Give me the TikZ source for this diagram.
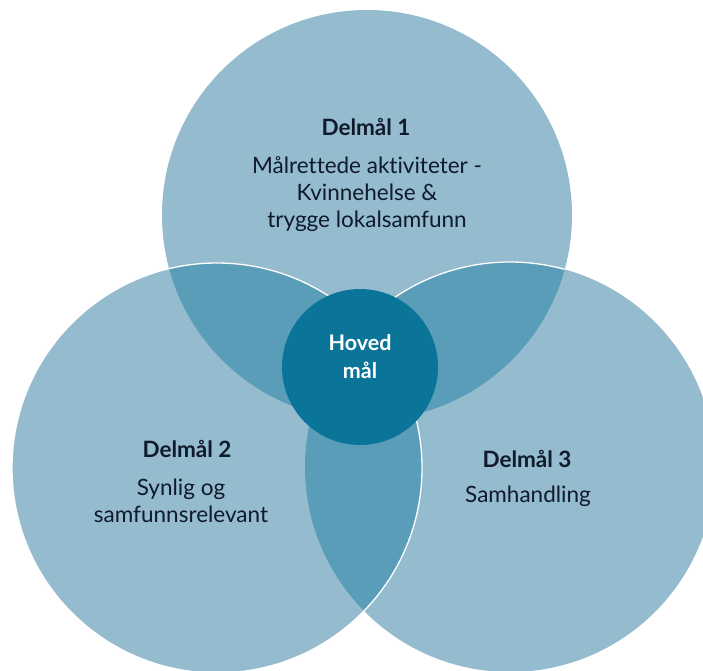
\documentclass[tikz,border=0pt]{standalone}
\usepackage{fontspec}
\setmainfont{Lato}[Ligatures=NoCommon]
\usetikzlibrary{positioning}
\definecolor{lightblue}{HTML}{94BBCE}
\definecolor{lensblue}{HTML}{5A9DB8}
\definecolor{mainblue}{HTML}{0B7599}
\definecolor{inkblue}{HTML}{0F1A2B}
\tikzstyle{goal}=[circle, fill=lightblue, minimum size=410pt, inner sep=0pt]
\tikzstyle{rim}=[white, line width=1.3pt]
\tikzstyle{title}=[anchor=base, text=inkblue, font=\fontsize{22.5}{27}\selectfont\bfseries]
\tikzstyle{body}=[align=center, text=inkblue, font=\fontsize{22.5}{27}\selectfont]

\begin{document}
\begin{tikzpicture}[x=1pt, y=1pt]
	\useasboundingbox (0, 0) rectangle (703, 670);
	\clip (0, 0) rectangle (703, 670);
	% the three circles
	\node[goal] (d1) at (367, 455) {};
	\node[goal] (d2) at (217, 202) {};
	\node[goal] (d3) at (510, 203) {};
	% overlaps
	\begin{scope}
		\clip (d1.center) circle (205);
		\fill[lensblue] (d2.center) circle (205);
		\fill[lensblue] (d3.center) circle (205);
		\draw[rim] (d3.center) circle (205);
	\end{scope}
	\begin{scope}
		\clip (d2.center) circle (205);
		\fill[lensblue] (d3.center) circle (205);
	\end{scope}
	\draw[rim] (d2.center) circle (205);
	% centre
	\node[circle, fill=mainblue, minimum size=156pt, inner sep=0pt] (hoved) at (360, 303) {};
	\node[align=center, text=white, font=\fontsize{21.5}{28}\selectfont\bfseries] (hovedtxt) at (360, 313) {Hoved\\mål};
	% texts
	\node[title] (t1) at (366, 534) {Delmål 1};
	\node[body] (b1) at (367, 476) {Målrettede aktiviteter -\\Kvinnehelse \&\\trygge lokalsamfunn};
	\node[title] (t2) at (187, 213) {Delmål 2};
	\node[body] (b2) at (181, 169) {Synlig og\\samfunnsrelevant};
	\node[title] (t3) at (527, 203) {Delmål 3};
	\node[body, anchor=base] (b3) at (528, 168) {Samhandling};
\end{tikzpicture}
\end{document}
